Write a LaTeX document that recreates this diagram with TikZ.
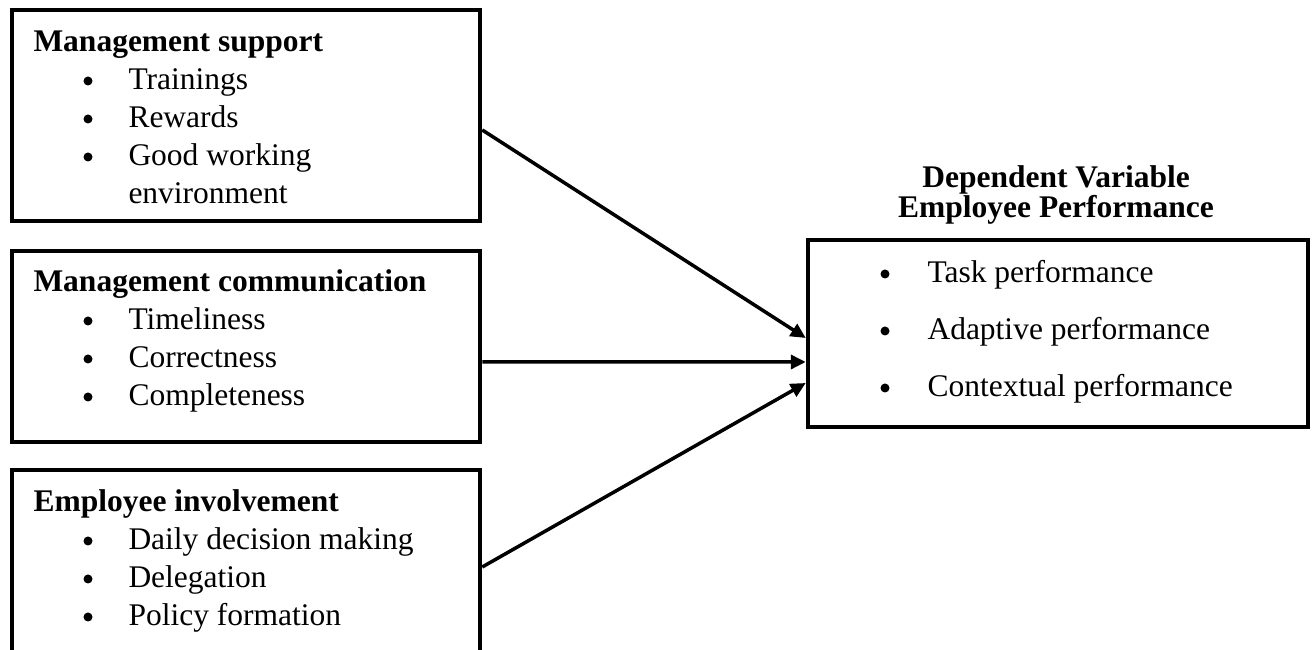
\documentclass[tikz,border=0pt]{standalone}
\usepackage{fontspec}
\setmainfont{Liberation Serif}
\usetikzlibrary{positioning, arrows.meta, fit}

\begin{document}
\begin{tikzpicture}
            [x=0.4pt, y=-0.4pt,
            box/.style={
                rectangle,
                draw,
                line width=1.8pt,
                inner sep=0pt
            },
            title/.style={
                font=\fontsize{12.6}{15}\selectfont\bfseries,
                inner sep=0pt,
                anchor=base west
            },
            item/.style={
                font=\fontsize{12.6}{15}\selectfont,
                inner sep=0pt,
                anchor=base west
            },
            dot/.style={circle, fill, inner sep=0pt, minimum size=3.6pt},
            head/.style={title, anchor=base},
            line/.style={
                draw, line width=1.4pt, -{Triangle[length=6pt,width=5.6pt]}
            }
            ]

            \path[use as bounding box] (0,0) rectangle (1313,650);
            \clip (0,0) rectangle (1313,650);

            % Independent variables
            \node[box, fit={(12,10) (480,221)}] (ms) {};
            \node[box, fit={(12,251) (480,442)}] (mc) {};
            \node[box, fit={(12,470) (480,700)}] (ei) {};

            \node[title] (mstitle) at (33,52) {Management support};
            \node[title] (mctitle) at (33,292) {Management communication};
            \node[title] (eititle) at (33,512) {Employee involvement};

            \foreach \name/\base/\items in {ms/52/{Trainings,Rewards,Good working},
                                           mc/292/{Timeliness,Correctness,Completeness},
                                           ei/512/{Daily decision making,Delegation,Policy formation}}{
                \foreach \txt [count=\i] in \items{
                    \node[dot] (\name dot\i) at (88,{\base+38*\i-9}) {};
                    \node[item] (\name\i) at (128,{\base+38*\i}) {\txt};
                }
            }
            \node[item] (ms4) at (128,204) {environment};

            % Dependent variable
            \node[head] (dvhead1) at (1056,188) {Dependent Variable};
            \node[head] (dvhead2) at (1056,218) {Employee Performance};
            \node[box, fit={(808,240) (1308,427)}] (dv) {};

            \foreach \txt/\base [count=\i] in {Task performance/283, Adaptive performance/340, Contextual performance/397}{
                \node[dot] (dvdot\i) at (885,\base-9) {};
                \node[item] (dv\i) at (927,\base) {\txt};
            }

            \path [line] ([yshift=-5.8pt]ms.east) -- ([yshift=-1.8pt]dv.west);
            \path [line] ([yshift=-6.2pt]mc.east) -- ([yshift=-11.4pt]dv.west);
            \path [line] ([yshift=7.2pt]ei.east) -- ([yshift=-19.8pt]dv.west);
\end{tikzpicture}
\end{document}
